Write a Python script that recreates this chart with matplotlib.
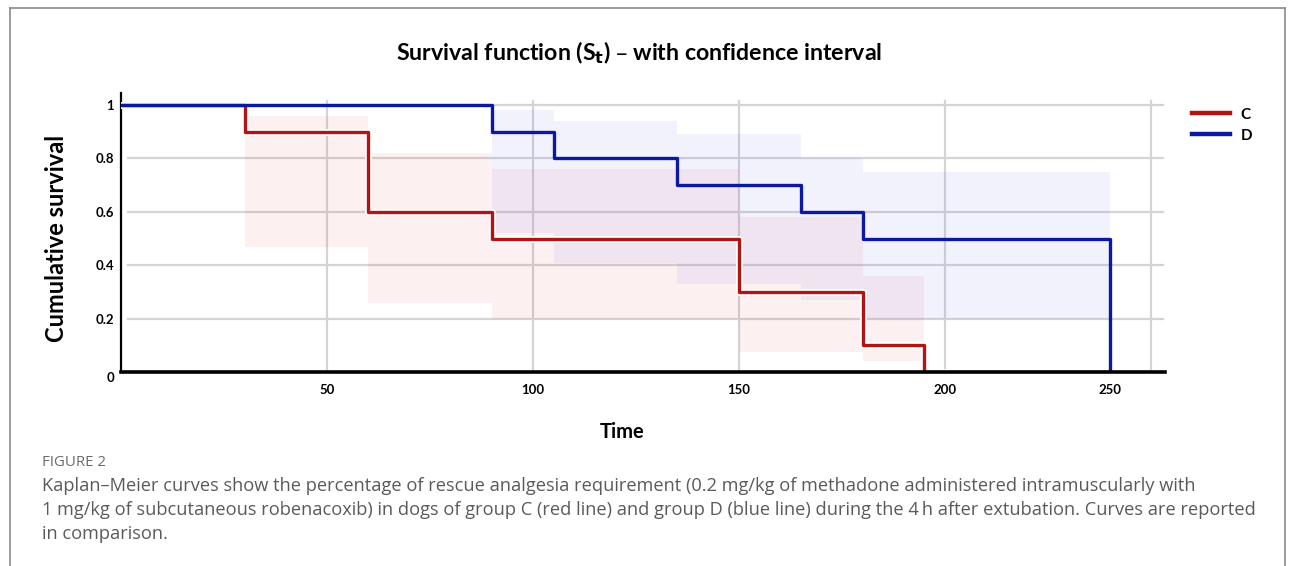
import matplotlib
matplotlib.use("Agg")
import matplotlib.pyplot as plt
import matplotlib.patheffects as pe
from matplotlib.lines import Line2D

# Kaplan-Meier steps for each group (time in minutes)
C_TIMES = [0, 30, 60, 90, 150, 180, 195, 240]
C_SURV = [1, 0.9, 0.6, 0.5, 0.3, 0.1, 0, 0]
D_TIMES = [0, 90, 105, 135, 165, 180, 240]
D_SURV = [1, 0.9, 0.8, 0.7, 0.6, 0.5, 0]

# confidence interval boxes
C_CI_START = [30, 60, 90, 150, 180]
C_CI_END = [60, 90, 150, 180, 195]
C_CI_LOW = [0.47, 0.26, 0.20, 0.075, 0.04]
C_CI_HIGH = [0.96, 0.82, 0.76, 0.58, 0.36]

D_CI_START = [90, 105, 135, 165, 180]
D_CI_END = [105, 135, 165, 180, 240]
D_CI_LOW = [0.52, 0.41, 0.33, 0.27, 0.20]
D_CI_HIGH = [0.98, 0.94, 0.89, 0.80, 0.75]

# axis ticks and grid
XTICK_POS = [50, 100, 150, 200, 240]
XTICK_LABELS = ["50", "100", "150", "200", "250"]
YTICK_POS = [0, 0.2, 0.4, 0.6, 0.8, 1]
YTICK_LABELS = ["0", "0.2", "0.4", "0.6", "0.8", "1"]
GRID_X = [50, 100, 150, 200, 250]
GRID_Y = [0.2, 0.4, 0.6, 0.8, 1.0]

CAPTION = [
    "Kaplan\u2013Meier curves show the percentage of rescue analgesia requirement "
    "(0.2 mg/kg of methadone administered intramuscularly with",
    "1 mg/kg of subcutaneous robenacoxib) in dogs of group C (red line) and group D "
    "(blue line) during the 4\u2009h after extubation. Curves are reported",
    "in comparison.",
]

RED = "#b01414"
BLUE = "#0c18a0"

W, H = 1296, 566
fig = plt.figure(figsize=(W / 100, H / 100), dpi=100)

ax = fig.add_axes([121 / W, 194 / H, 1044 / W, 279 / H])
ax.set_xlim(0, 253.4)
ax.set_ylim(0, 1.045)

# grid lines
for gx in GRID_X:
    ax.axvline(gx, ymin=0, ymax=0.97, color="#d4d4d4", lw=1.6, zorder=0)
for gy in GRID_Y:
    ax.axhline(gy, xmin=0.007, xmax=0.998, color="#d4d4d4", lw=1.6, zorder=0)

# confidence interval shading
for x0, x1, lo, hi in zip(C_CI_START, C_CI_END, C_CI_LOW, C_CI_HIGH):
    ax.fill_between([x0, x1], lo, hi, color="#e04a4a", alpha=0.08, lw=0, zorder=1)
for x0, x1, lo, hi in zip(D_CI_START, D_CI_END, D_CI_LOW, D_CI_HIGH):
    ax.fill_between([x0, x1], lo, hi, color="#5a5af0", alpha=0.08, lw=0, zorder=1)

halo = [pe.withStroke(linewidth=5, foreground="white")]
line_c, = ax.plot(C_TIMES, C_SURV, drawstyle="steps-post", color=RED, lw=2.4,
                  path_effects=halo, zorder=3, label="C")
line_d, = ax.plot(D_TIMES, D_SURV, drawstyle="steps-post", color=BLUE, lw=2.4,
                  zorder=4, label="D")

# spines
for side in ["top", "right"]:
    ax.spines[side].set_visible(False)
ax.spines["left"].set_linewidth(1.6)
ax.spines["bottom"].set_linewidth(2.6)
ax.spines["bottom"].set_zorder(5)

tick_font = {"size": 9.5, "weight": "bold", "family": "Lato"}
ax.set_xticks(XTICK_POS)
ax.set_xticklabels(XTICK_LABELS, fontdict=tick_font)
ax.set_yticks(YTICK_POS)
ax.set_yticklabels(YTICK_LABELS, fontdict=tick_font)
ax.tick_params(length=0)
ax.tick_params(axis="x", pad=9)
ax.tick_params(axis="y", pad=5)
ax.get_yticklabels()[0].set_verticalalignment("top")

fig.text(57 / W, 1 - 238 / H, "Cumulative survival", rotation=90, ha="center",
         va="center", fontsize=17, fontweight="bold", family="Lato")
fig.text(622 / W, 1 - 432 / H, "Time", ha="center", va="center",
         fontsize=14.5, fontweight="bold", family="Lato")
fig.text(639 / W, 1 - 53 / H,
         "Survival function (S$_\\mathbf{t}$) \u2013 with confidence interval",
         ha="center", va="center", fontsize=16.7, fontweight="bold", family="Lato")

leg = fig.legend(handles=[line_c, line_d], loc="upper left",
                 bbox_to_anchor=(1178 / W, 1 - 94 / H), frameon=False,
                 prop={"weight": "bold", "size": 11, "family": "Lato"},
                 handlelength=2.5, handletextpad=0.7, labelspacing=0.45)
for lh in leg.legend_handles:
    lh.set_linewidth(3.2)
    lh.set_path_effects([])

# caption
fig.text(42 / W, 1 - 463 / H, "FIGURE 2", ha="left", va="center",
         fontsize=10.8, color="#6b6b6b", family="Open Sans")
for i, line in enumerate(CAPTION):
    fig.text(42 / W, 1 - (486 + 24 * i) / H, line, ha="left", va="center",
             fontsize=13.12, color="#5a5a5a", family="Open Sans")

# page frame around the figure
frame = dict(color="#8a8a8a", lw=1.2, transform=fig.transFigure)
fig.add_artist(Line2D([9.5 / W, 9.5 / W], [0, 1 - 8 / H], **frame))
fig.add_artist(Line2D([9.5 / W, 1285 / W], [1 - 8 / H, 1 - 8 / H], **frame))
fig.add_artist(Line2D([1285 / W, 1285 / W], [0, 1 - 8 / H], **frame))

fig.savefig("out.png", dpi=100)
